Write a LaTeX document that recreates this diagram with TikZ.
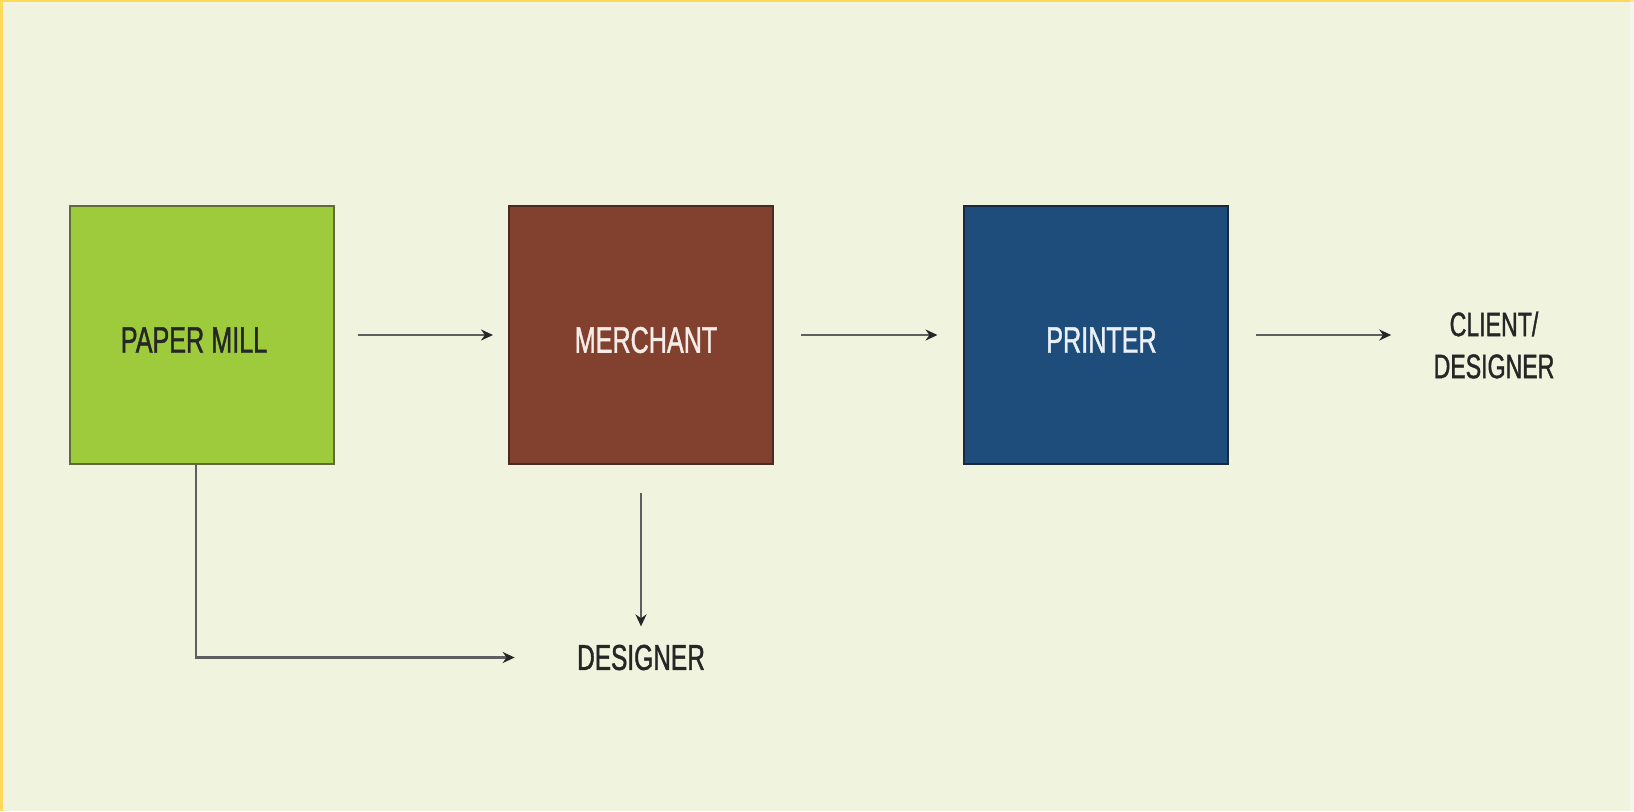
\documentclass[tikz,border=0pt]{standalone}
\usepackage{fontspec}
\setmainfont[FakeStretch=0.68,FakeBold=1.2]{Liberation Sans}
\usetikzlibrary{arrows.meta}
\definecolor{bgc}{HTML}{F0F4DF}
\definecolor{frame}{HTML}{FFD95A}
\definecolor{millc}{HTML}{9ECB3C}
\definecolor{millb}{HTML}{5F6B3A}
\definecolor{merc}{HTML}{82402F}
\definecolor{merb}{HTML}{4A2A22}
\definecolor{prc}{HTML}{1E4C7B}
\definecolor{prb}{HTML}{1A2A3E}
\definecolor{linec}{HTML}{5E5E5E}
\definecolor{txt}{HTML}{262626}
\newcommand{\boxtext}[2]{\raisebox{-2.5pt}[\height][\depth]{\hspace*{#1}#2}}
\begin{document}
\begin{tikzpicture}[x=0.5pt,y=-0.5pt,
  box/.style={rectangle, inner sep=0pt, minimum width=132pt, minimum height=129pt, line width=1pt, font=\fontsize{18.5}{21}\selectfont},
  lbl/.style={inner sep=0pt, text=txt, align=center},
  arr/.style={draw=linec, line width=1.3pt, -{Stealth[length=6pt,width=5.5pt,color=txt]}}
]
\useasboundingbox (0,0) rectangle (1634,811);
\fill[bgc] (0,0) rectangle (1634,811);
\fill[frame] (0,0) rectangle (1634,2);
\fill[frame] (0,0) rectangle (3,811);
\fill[white,opacity=0.35] (1630,0) rectangle (1634,811);

\node[box, fill=millc, draw=millb, text=txt] (pm) at (202,335) {\boxtext{-8pt}{PAPER MILL}};
\node[box, fill=merc, draw=merb, text={rgb,255:red,244;green,236;blue,230}] (mer) at (641,335) {\boxtext{5pt}{MERCHANT}};
\node[box, fill=prc, draw=prb, text={rgb,255:red,234;green,240;blue,246}] (pr) at (1095.5,335) {\boxtext{6pt}{PRINTER}};

\node[lbl, font=\fontsize{17}{21}\selectfont] (cl) at (1494,345) {CLIENT/\\DESIGNER};
\node[lbl, font=\fontsize{18}{21}\selectfont] (des) at (641,657.5) {DESIGNER};

\draw[arr] ([xshift=11.5pt]pm.east) -- ([xshift=-7.5pt]mer.west);
\draw[arr] ([xshift=13.5pt]mer.east) -- ([xshift=-12.5pt]pr.west);
\draw[arr] ([xshift=13.5pt]pr.east) -- ([xshift=-21pt]pr.east -| cl.west);
\draw[arr] ([yshift=-14pt]mer.south) -- ([yshift=9pt]des.north);
\draw[arr] ([xshift=-3pt]pm.south) |- ([xshift=-31pt]des.west);
\end{tikzpicture}
\end{document}
